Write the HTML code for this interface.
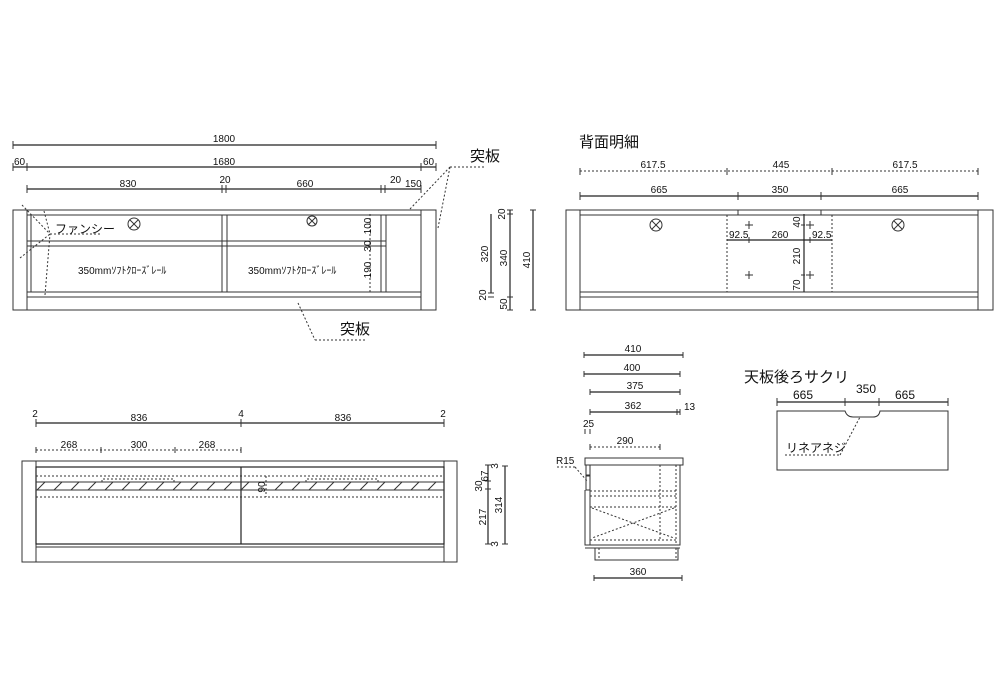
<!DOCTYPE html>
<html><head><meta charset="utf-8"><style>
html,body{margin:0;padding:0;background:#fff;}
svg{display:block;font-family:"Liberation Sans","Noto Sans CJK JP",sans-serif;}
text{fill:#111;}
.l{stroke:#333;stroke-width:1;fill:none;}
.t{stroke:#222;stroke-width:1.2;fill:none;}
.d{stroke:#333;stroke-width:1;fill:none;stroke-dasharray:2,2;}
.s{font-size:10px;}
</style></head><body>
<svg width="1000" height="700" viewBox="0 0 1000 700">
<!-- FRONT VIEW -->
<g>
<line class="t" x1="13" y1="145" x2="436" y2="145"/><line class="l" x1="13" y1="141" x2="13" y2="149"/><line class="l" x1="436" y1="141" x2="436" y2="149"/>
<text class="s" x="224" y="142" text-anchor="middle">1800</text>
<line class="t" x1="13" y1="167" x2="436" y2="167"/>
<line class="l" x1="13" y1="163" x2="13" y2="171"/><line class="l" x1="27" y1="163" x2="27" y2="171"/><line class="l" x1="421" y1="163" x2="421" y2="171"/><line class="l" x1="436" y1="163" x2="436" y2="171"/>
<text class="s" x="14" y="165">60</text><text class="s" x="224" y="165" text-anchor="middle">1680</text><text class="s" x="423" y="165">60</text>
<line class="t" x1="27" y1="189" x2="421" y2="189"/>
<line class="l" x1="27" y1="185" x2="27" y2="193"/><line class="l" x1="222" y1="185" x2="222" y2="193"/><line class="l" x1="226" y1="185" x2="226" y2="193"/><line class="l" x1="381" y1="185" x2="381" y2="193"/><line class="l" x1="385" y1="185" x2="385" y2="193"/><line class="l" x1="421" y1="185" x2="421" y2="193"/>
<text class="s" x="128" y="187" text-anchor="middle">830</text><text class="s" x="225" y="183" text-anchor="middle">20</text><text class="s" x="305" y="187" text-anchor="middle">660</text><text class="s" x="390" y="183">20</text><text class="s" x="405" y="187">150</text>
<rect class="l" x="13" y="210" width="423" height="100"/>
<line class="l" x1="27" y1="210" x2="27" y2="310"/><line class="l" x1="421" y1="210" x2="421" y2="310"/>
<line class="l" x1="27" y1="215" x2="421" y2="215"/>
<line class="l" x1="27" y1="241" x2="386" y2="241"/><line class="l" x1="27" y1="246" x2="386" y2="246"/>
<line class="l" x1="27" y1="292" x2="421" y2="292"/><line class="l" x1="27" y1="297" x2="421" y2="297"/>
<line class="l" x1="222" y1="215" x2="222" y2="292"/><line class="l" x1="227" y1="215" x2="227" y2="292"/>
<line class="l" x1="381" y1="215" x2="381" y2="292"/><line class="l" x1="386" y1="215" x2="386" y2="292"/>
<line class="l" x1="31" y1="215" x2="31" y2="292"/>
<circle class="l" cx="134" cy="224" r="6"/><line class="l" x1="130" y1="220" x2="138" y2="228"/><line class="l" x1="138" y1="220" x2="130" y2="228"/>
<circle class="l" cx="312" cy="221" r="5"/><line class="l" x1="308" y1="217" x2="316" y2="225"/><line class="l" x1="316" y1="217" x2="308" y2="225"/>
<text x="55" y="233" style="font-size:12px">ファンシー</text>
<line class="d" x1="50" y1="234" x2="100" y2="234"/>
<line class="d" x1="22" y1="205" x2="50" y2="234"/><line class="d" x1="44" y1="211" x2="50" y2="234"/><line class="d" x1="20" y1="258" x2="50" y2="234"/><line class="d" x1="45" y1="295" x2="50" y2="234"/>
<line class="d" x1="370" y1="214" x2="370" y2="292"/>
<text class="s" x="78" y="274">350mmｿﾌﾄｸﾛｰｽﾞﾚｰﾙ</text>
<text class="s" x="248" y="274">350mmｿﾌﾄｸﾛｰｽﾞﾚｰﾙ</text>
<text class="s" transform="translate(371,226) rotate(-90)" text-anchor="middle">100</text>
<text class="s" transform="translate(371,246) rotate(-90)" text-anchor="middle">30</text>
<text class="s" transform="translate(371,270) rotate(-90)" text-anchor="middle">190</text>
<text x="470" y="161" style="font-size:15px">突板</text>
<line class="d" x1="410" y1="209" x2="450" y2="167"/><line class="d" x1="438" y1="228" x2="450" y2="167"/><line class="d" x1="450" y1="167" x2="485" y2="167"/>
<text x="340" y="334" style="font-size:15px">突板</text>
<line class="d" x1="298" y1="303" x2="315" y2="340"/><line class="d" x1="315" y1="340" x2="367" y2="340"/>
<line class="t" x1="491" y1="214" x2="491" y2="293"/><line class="l" x1="488" y1="293" x2="494" y2="293"/><line class="l" x1="488" y1="297" x2="494" y2="297"/>
<line class="t" x1="510" y1="210" x2="510" y2="310"/><line class="l" x1="507" y1="210" x2="513" y2="210"/><line class="l" x1="507" y1="214" x2="513" y2="214"/><line class="l" x1="507" y1="297" x2="513" y2="297"/><line class="l" x1="507" y1="310" x2="513" y2="310"/>
<line class="t" x1="533" y1="210" x2="533" y2="310"/><line class="l" x1="530" y1="210" x2="536" y2="210"/><line class="l" x1="530" y1="310" x2="536" y2="310"/>
<text class="s" transform="translate(488,254) rotate(-90)" text-anchor="middle">320</text>
<text class="s" transform="translate(507,258) rotate(-90)" text-anchor="middle">340</text>
<text class="s" transform="translate(530,260) rotate(-90)" text-anchor="middle">410</text>
<text class="s" transform="translate(505,214) rotate(-90)" text-anchor="middle">20</text>
<text class="s" transform="translate(486,295) rotate(-90)" text-anchor="middle">20</text>
<text class="s" transform="translate(507,304) rotate(-90)" text-anchor="middle">50</text>
</g>
<!-- BACK VIEW -->
<g>
<text x="579" y="147" style="font-size:15px">背面明細</text>
<line class="d" x1="580" y1="171" x2="978" y2="171"/>
<line class="l" x1="580" y1="168" x2="580" y2="175"/><line class="l" x1="727" y1="168" x2="727" y2="175"/><line class="l" x1="832" y1="168" x2="832" y2="175"/><line class="l" x1="978" y1="168" x2="978" y2="175"/>
<text class="s" x="653" y="168" text-anchor="middle">617.5</text><text class="s" x="781" y="168" text-anchor="middle">445</text><text class="s" x="905" y="168" text-anchor="middle">617.5</text>
<line class="t" x1="580" y1="196" x2="978" y2="196"/>
<line class="l" x1="580" y1="192" x2="580" y2="200"/><line class="l" x1="738" y1="192" x2="738" y2="200"/><line class="l" x1="821" y1="192" x2="821" y2="200"/><line class="l" x1="978" y1="192" x2="978" y2="200"/>
<text class="s" x="659" y="193" text-anchor="middle">665</text><text class="s" x="780" y="193" text-anchor="middle">350</text><text class="s" x="900" y="193" text-anchor="middle">665</text>
<rect class="l" x="566" y="210" width="427" height="100"/>
<line class="l" x1="580" y1="210" x2="580" y2="310"/><line class="l" x1="978" y1="210" x2="978" y2="310"/>
<line class="l" x1="580" y1="215" x2="978" y2="215"/>
<line class="l" x1="738" y1="210" x2="738" y2="215"/><line class="l" x1="821" y1="210" x2="821" y2="215"/>
<line class="l" x1="580" y1="292" x2="978" y2="292"/><line class="l" x1="580" y1="297" x2="978" y2="297"/>
<line class="d" x1="727" y1="215" x2="727" y2="292"/><line class="d" x1="832" y1="215" x2="832" y2="292"/>
<circle class="l" cx="656" cy="225" r="6"/><line class="l" x1="652" y1="221" x2="660" y2="229"/><line class="l" x1="660" y1="221" x2="652" y2="229"/>
<circle class="l" cx="898" cy="225" r="6"/><line class="l" x1="894" y1="221" x2="902" y2="229"/><line class="l" x1="902" y1="221" x2="894" y2="229"/>
<line class="t" x1="804" y1="214" x2="804" y2="292"/>
<line class="t" x1="727" y1="240" x2="832" y2="240"/>
<line class="l" x1="749" y1="237" x2="749" y2="243"/><line class="l" x1="810" y1="237" x2="810" y2="243"/>
<g class="l"><path d="M745 225h8M749 221v8M806 225h8M810 221v8M745 275h8M749 271v8M806 275h8M810 271v8M801 225h4M801 275h4"/></g>
<text class="s" x="729" y="238">92.5</text><text class="s" x="780" y="238" text-anchor="middle">260</text><text class="s" x="812" y="238">92.5</text>
<text class="s" transform="translate(800,222) rotate(-90)" text-anchor="middle">40</text>
<text class="s" transform="translate(800,256) rotate(-90)" text-anchor="middle">210</text>
<text class="s" transform="translate(800,285) rotate(-90)" text-anchor="middle">70</text>
</g>
<!-- BOTTOM-LEFT VIEW -->
<g>
<line class="t" x1="36" y1="423" x2="444" y2="423"/>
<line class="l" x1="36" y1="419" x2="36" y2="427"/><line class="l" x1="241" y1="419" x2="241" y2="427"/><line class="l" x1="444" y1="419" x2="444" y2="427"/>
<text class="s" x="35" y="417" text-anchor="middle">2</text><text class="s" x="139" y="421" text-anchor="middle">836</text><text class="s" x="241" y="417" text-anchor="middle">4</text><text class="s" x="343" y="421" text-anchor="middle">836</text><text class="s" x="443" y="417" text-anchor="middle">2</text>
<line class="d" x1="36" y1="450" x2="241" y2="450"/>
<line class="l" x1="36" y1="447" x2="36" y2="453"/><line class="l" x1="101" y1="447" x2="101" y2="453"/><line class="l" x1="175" y1="447" x2="175" y2="453"/><line class="l" x1="241" y1="447" x2="241" y2="453"/>
<text class="s" x="69" y="448" text-anchor="middle">268</text><text class="s" x="139" y="448" text-anchor="middle">300</text><text class="s" x="207" y="448" text-anchor="middle">268</text>
<rect class="l" x="22" y="461" width="435" height="101"/>
<line class="l" x1="36" y1="461" x2="36" y2="562"/><line class="l" x1="444" y1="461" x2="444" y2="562"/>
<rect class="t" x="36" y="467" width="408" height="77"/>
<line class="l" x1="36" y1="547" x2="444" y2="547"/>
<line class="t" x1="241" y1="467" x2="241" y2="544"/>
<line class="d" x1="36" y1="476" x2="444" y2="476"/><line class="d" x1="36" y1="497" x2="444" y2="497"/>
<line class="l" x1="36" y1="482" x2="444" y2="482"/><line class="l" x1="36" y1="490" x2="444" y2="490"/>
<path class="l" d="M37 490l8-8M54 490l8-8M71 490l8-8M88 490l8-8M105 490l8-8M122 490l8-8M139 490l8-8M156 490l8-8M173 490l8-8M190 490l8-8M207 490l8-8M224 490l8-8M241 490l8-8M275 490l8-8M292 490l8-8M309 490l8-8M326 490l8-8M343 490l8-8M360 490l8-8M377 490l8-8M394 490l8-8M411 490l8-8M428 490l8-8"/>
<path class="d" d="M102 482v-3h72v3M306 482v-3h72v3"/>
<line class="d" x1="266" y1="476" x2="266" y2="497"/>
<text class="s" transform="translate(265,487) rotate(-90)" text-anchor="middle">90</text>
<line class="t" x1="488" y1="465" x2="488" y2="544"/>
<line class="l" x1="485" y1="465" x2="491" y2="465"/><line class="l" x1="485" y1="481" x2="491" y2="481"/><line class="l" x1="485" y1="489" x2="491" y2="489"/><line class="l" x1="485" y1="544" x2="491" y2="544"/>
<line class="t" x1="505" y1="466" x2="505" y2="544"/><line class="l" x1="502" y1="466" x2="508" y2="466"/><line class="l" x1="502" y1="544" x2="508" y2="544"/>
<text class="s" transform="translate(498,466) rotate(-90)" text-anchor="middle">3</text>
<text class="s" transform="translate(488,476) rotate(-90)" text-anchor="middle">67</text>
<text class="s" transform="translate(482,486) rotate(-90)" text-anchor="middle">30</text>
<text class="s" transform="translate(486,517) rotate(-90)" text-anchor="middle">217</text>
<text class="s" transform="translate(502,505) rotate(-90)" text-anchor="middle">314</text>
<text class="s" transform="translate(498,544) rotate(-90)" text-anchor="middle">3</text>
</g>
<!-- SIDE VIEW -->
<g>
<line class="t" x1="584" y1="355" x2="683" y2="355"/><line class="l" x1="584" y1="352" x2="584" y2="358"/><line class="l" x1="683" y1="352" x2="683" y2="358"/>
<text class="s" x="633" y="352" text-anchor="middle">410</text>
<line class="t" x1="584" y1="374" x2="680" y2="374"/><line class="l" x1="584" y1="371" x2="584" y2="377"/><line class="l" x1="680" y1="371" x2="680" y2="377"/>
<text class="s" x="632" y="371" text-anchor="middle">400</text>
<line class="t" x1="590" y1="392" x2="680" y2="392"/><line class="l" x1="590" y1="389" x2="590" y2="395"/><line class="l" x1="680" y1="389" x2="680" y2="395"/>
<text class="s" x="635" y="389" text-anchor="middle">375</text>
<line class="t" x1="590" y1="412" x2="680" y2="412"/><line class="l" x1="590" y1="409" x2="590" y2="415"/><line class="l" x1="677" y1="409" x2="677" y2="415"/><line class="l" x1="680" y1="409" x2="680" y2="415"/>
<text class="s" x="633" y="409" text-anchor="middle">362</text><text class="s" x="684" y="410">13</text>
<text class="s" x="583" y="427">25</text>
<line class="l" x1="585" y1="429" x2="585" y2="434"/><line class="l" x1="590" y1="429" x2="590" y2="434"/>
<line class="d" x1="590" y1="447" x2="660" y2="447"/><line class="l" x1="590" y1="444" x2="590" y2="450"/><line class="l" x1="660" y1="444" x2="660" y2="450"/>
<text class="s" x="625" y="444" text-anchor="middle">290</text>
<text class="s" x="556" y="464">R15</text>
<line class="d" x1="557" y1="467" x2="575" y2="467"/><line class="d" x1="575" y1="467" x2="588" y2="482"/>
<path class="l" d="M585 458h98v7h-98z"/>
<path class="l" d="M590 465v80h90v-80M586 465v10h4M585 490v55h5"/>
<rect class="l" x="586" y="476" width="4" height="14"/>
<line class="l" x1="585" y1="545" x2="680" y2="545"/><line class="l" x1="585" y1="548" x2="680" y2="548"/>
<rect class="l" x="595" y="548" width="83" height="12"/>
<line class="d" x1="660" y1="465" x2="660" y2="540"/><line class="d" x1="676" y1="465" x2="676" y2="545"/>
<line class="d" x1="590" y1="491" x2="676" y2="491"/><line class="d" x1="590" y1="496" x2="676" y2="496"/><line class="d" x1="590" y1="507" x2="676" y2="507"/><line class="d" x1="590" y1="540" x2="676" y2="540"/>
<line class="d" x1="592" y1="508" x2="674" y2="538"/><line class="d" x1="674" y1="508" x2="592" y2="538"/>
<line class="d" x1="599" y1="548" x2="599" y2="560"/><line class="d" x1="676" y1="548" x2="676" y2="560"/>
<line class="t" x1="594" y1="578" x2="682" y2="578"/><line class="l" x1="594" y1="575" x2="594" y2="581"/><line class="l" x1="682" y1="575" x2="682" y2="581"/>
<text class="s" x="638" y="575" text-anchor="middle">360</text>
</g>
<!-- TOP BOARD -->
<g>
<text x="744" y="382" style="font-size:15px">天板後ろサクリ</text>
<line class="t" x1="777" y1="402" x2="948" y2="402"/>
<line class="l" x1="777" y1="398" x2="777" y2="406"/><line class="l" x1="845" y1="398" x2="845" y2="406"/><line class="l" x1="879" y1="398" x2="879" y2="406"/><line class="l" x1="948" y1="398" x2="948" y2="406"/>
<text x="803" y="399" style="font-size:12px" text-anchor="middle">665</text><text x="866" y="393" style="font-size:12px" text-anchor="middle">350</text><text x="905" y="399" style="font-size:12px" text-anchor="middle">665</text>
<path class="l" d="M777 411h68q2 6 8 6h20q6 0 7-6h68v59h-171z"/>
<text x="786" y="452" style="font-size:12px">リネアネジ</text>
<line class="d" x1="785" y1="455" x2="840" y2="455"/><line class="d" x1="840" y1="455" x2="860" y2="417"/>
</g>
</svg>
</body></html>
